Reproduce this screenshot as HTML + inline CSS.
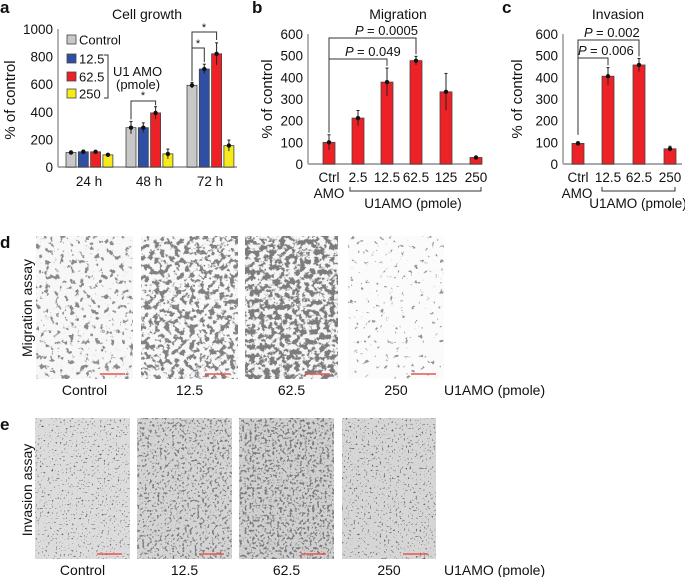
<!DOCTYPE html>
<html><head><meta charset="utf-8">
<style>
html,body{margin:0;padding:0;background:#fff;}
svg{display:block;font-family:"Liberation Sans",Arial,sans-serif;}
</style></head>
<body>
<svg id="fig" width="685" height="577" viewBox="0 0 685 577" xmlns="http://www.w3.org/2000/svg">
<defs>
 <filter id="mig0" x="0" y="0" width="1" height="1"><feTurbulence type="fractalNoise" baseFrequency="0.2" numOctaves="3" seed="3"/><feColorMatrix type="matrix" values="0 0 0 0 0.25  0 0 0 0 0.25  0 0 0 0 0.25  10 0 0 0 -5.9"/></filter>
 <filter id="mig1" x="0" y="0" width="1" height="1"><feTurbulence type="fractalNoise" baseFrequency="0.2" numOctaves="3" seed="7"/><feColorMatrix type="matrix" values="0 0 0 0 0.22  0 0 0 0 0.22  0 0 0 0 0.22  10 0 0 0 -5.0"/></filter>
 <filter id="mig2" x="0" y="0" width="1" height="1"><feTurbulence type="fractalNoise" baseFrequency="0.2" numOctaves="3" seed="11"/><feColorMatrix type="matrix" values="0 0 0 0 0.2  0 0 0 0 0.2  0 0 0 0 0.2  10 0 0 0 -4.6"/></filter>
 <filter id="mig3" x="0" y="0" width="1" height="1"><feTurbulence type="fractalNoise" baseFrequency="0.2" numOctaves="3" seed="5"/><feColorMatrix type="matrix" values="0 0 0 0 0.3  0 0 0 0 0.3  0 0 0 0 0.3  14 0 0 0 -9.6"/></filter>
 <filter id="inv0" x="0" y="0" width="1" height="1"><feTurbulence type="fractalNoise" baseFrequency="0.5" numOctaves="2" seed="2"/><feColorMatrix type="matrix" values="0 0 0 0 0.12  0 0 0 0 0.12  0 0 0 0 0.12  12 0 0 0 -7.9"/></filter>
 <filter id="inv1" x="0" y="0" width="1" height="1"><feTurbulence type="fractalNoise" baseFrequency="0.4" numOctaves="2" seed="9"/><feColorMatrix type="matrix" values="0 0 0 0 0.2  0 0 0 0 0.2  0 0 0 0 0.2  10 0 0 0 -5.7"/></filter>
 <filter id="inv2" x="0" y="0" width="1" height="1"><feTurbulence type="fractalNoise" baseFrequency="0.4" numOctaves="2" seed="13"/><feColorMatrix type="matrix" values="0 0 0 0 0.2  0 0 0 0 0.2  0 0 0 0 0.2  10 0 0 0 -5.4"/></filter>
 <filter id="inv3" x="0" y="0" width="1" height="1"><feTurbulence type="fractalNoise" baseFrequency="0.5" numOctaves="2" seed="4"/><feColorMatrix type="matrix" values="0 0 0 0 0.12  0 0 0 0 0.12  0 0 0 0 0.12  12 0 0 0 -7.8"/></filter>
</defs>
<g id="root"></g>
</svg>
<script>
// Panel a data
const aGroups = ["24 h","48 h","72 h"];
const aSeries = ["Control","12.5","62.5","250"];
const aControl = [105,285,592];
const a125 = [110,285,710];
const a625 = [110,392,820];
const a250 = [88,95,155];
const aErrControl = [10,45,20];
const aErr125 = [12,35,35];
const aErr625 = [10,45,80];
const aErr250 = [8,35,40];
const aTicks = [0,200,400,600,800,1000];
// Panel b data
const bCats = ["Ctrl","2.5","12.5","62.5","125","250"];
const bValues = [100,212,378,477,333,30];
const bErr = [35,35,65,20,85,5];
const bTicks = [0,100,200,300,400,500,600];
// Panel c data
const cCats = ["Ctrl","12.5","62.5","250"];
const cValues = [95,405,457,70];
const cErr = [8,40,30,12];
const cTicks = [0,100,200,300,400,500,600];

const NS="http://www.w3.org/2000/svg";
const root=document.getElementById('root');
function el(tag,parent){const e=document.createElementNS(NS,tag);(parent||root).appendChild(e);return e;}
function sa(e,o){for(const k in o)e.setAttribute(k,o[k]);return e;}
function txt(s,x,y,size,anchor,parent,extra){const t=el('text',parent);sa(t,{x:x,y:y,'font-size':size,'text-anchor':anchor||'middle',fill:'#111'});if(extra)sa(t,extra);t.textContent=s;return t;}
function line(x1,y1,x2,y2,parent,w,c){const l=el('line',parent);sa(l,{x1:x1,y1:y1,x2:x2,y2:y2,stroke:c||'#333','stroke-width':w||1});return l;}

function axis(x0,xEnd,yTop,yBot,max,ticks,g){
  const y=v=>yBot-(v/max)*(yBot-yTop);
  const ax=line(x0,yTop,x0,yBot,g,1.5,'#999');
  
  
  const bx=line(x0,yBot,xEnd,yBot,g,2,'#aaa');
  
  
  ticks.forEach(v=>{
    const t=txt(String(v),x0-5,y(v)+5,13.5,'end',g);
    
    
  });
  return y;
}
function bar(cx,w,v,err,y,fill,g){
  const r=el('rect',g);
  sa(r,{x:cx-w/2,y:y(v),width:w,height:y(0)-y(v),fill:fill,stroke:'#444','stroke-width':0.8});
  
  
  const e=line(cx,y(v+err),cx,y(Math.max(0,v-err)),g,1,'#222');
  
  
  line(cx-1.5,y(v+err),cx+1.5,y(v+err),g,1,'#222');
  const d=el('circle',g);sa(d,{cx:cx,cy:y(v),r:2.2,fill:'#111'});
  
  
}
function bracket(x1,x2,yLine,y1,y2,g){
  const p=el('path',g);
  sa(p,{d:`M${x1},${y1}V${yLine}H${x2}V${y2}`,fill:'none',stroke:'#333','stroke-width':1});
  
  
}

// ---------- Panel a ----------
const ga=el('g');
txt('a',0,13,17,'start',ga,{'font-weight':'bold'});
const ta=txt('Cell growth',147,19,14,'middle',ga);
const yta=txt('% of control',0,0,15,'middle',ga,{transform:'translate(15,100) rotate(-90)'});
const ya=axis(58,237,29,167,1000,aTicks,ga);
const aColors=['#c8c8c8','#2f4fa5','#ee2127','#f6ea1b'];
const aVals=[aControl,a125,a625,a250];
const aErrs=[aErrControl,aErr125,aErr625,aErr250];
const aStart=[71,131,192];
aGroups.forEach((gname,i)=>{
  for(let s=0;s<4;s++){bar(aStart[i]+s*12.3,10,aVals[s][i],aErrs[s][i],ya,aColors[s],ga);}
  const l=txt(gname,aStart[i]+18,186,13.5,'middle',ga);
  
  
});
// legend
const legY=[40,59,77,94];
aSeries.forEach((s,i)=>{
  const r=el('rect',ga);sa(r,{x:67,y:legY[i]-5,width:9,height:9,fill:aColors[i],stroke:'#444','stroke-width':0.8});
  
  
  const t=txt(s,79,legY[i]+4.5,13,'start',ga);
  
  
});
const lb=el('path',ga);sa(lb,{d:'M104,55H108V98H104',fill:'none',stroke:'#333','stroke-width':1});

txt('U1 AMO',113,76,13,'start',ga);
txt('(pmole)',116,89,13,'start',ga);
bracket(aStart[1],aStart[1]+2*12.3,101,ya(aControl[1]+60),ya(a625[1]+55),ga);
txt('*',aStart[1]+12,99,11,'middle',ga);
bracket(aStart[2],aStart[2]+2*12.3,32,ya(aControl[2]+30),ya(a625[2]+100),ga);
txt('*',aStart[2]+12,31,11,'middle',ga);
bracket(aStart[2],aStart[2]+12.3,48,ya(aControl[2]+30),ya(a125[2]+50),ga);
txt('*',aStart[2]+6,47,11,'middle',ga);

// ---------- Panel b ----------
const gb=el('g');
txt('b',252,13,17,'start',gb,{'font-weight':'bold'});
const tb=txt('Migration',398,19,14,'middle',gb);
const ytb=txt('% of control',0,0,15,'middle',gb,{transform:'translate(272,99) rotate(-90)'});
const yb=axis(308,482,34,164,600,bTicks,gb);
const bX=[329,358,387,416,446,476];
bCats.forEach((c,i)=>{
  bar(bX[i],12,bValues[i],bErr[i],yb,'#ee2127',gb);
  const l=txt(c,bX[i],182,13.5,'middle',gb);
  
  
});
txt('AMO',329,198,13.5,'middle',gb);
bracket(bX[0],bX[3],38,yb(bValues[0]+45),yb(bValues[3]+30),gb);
bracket(bX[0],bX[2],59,yb(bValues[0]+45),yb(bValues[2]+75),gb);
txt('P',355,35,13,'start',gb,{'font-style':'italic'});txt('= 0.0005',367,35,13,'start',gb);
txt('P',345,56,13,'start',gb,{'font-style':'italic'});txt('= 0.049',357,56,13,'start',gb);
const ub=el('path',gb);sa(ub,{d:'M350,187V191H481V187',fill:'none',stroke:'#333','stroke-width':1});

txt('U1AMO (pmole)',413,208,13.5,'middle',gb);

// ---------- Panel c ----------
const gc=el('g');
txt('c',502,13,17,'start',gc,{'font-weight':'bold'});
const tc=txt('Invasion',618,19,14,'middle',gc);
const ytc=txt('% of control',0,0,15,'middle',gc,{transform:'translate(522,99) rotate(-90)'});
const yc=axis(563,682,34,164,600,cTicks,gc);
const cX=[578,608,639,670];
cCats.forEach((c,i)=>{
  bar(cX[i],12,cValues[i],cErr[i],yc,'#ee2127',gc);
  const l=txt(c,cX[i],182,13.5,'middle',gc);
  
  
});
txt('AMO',577,198,13.5,'middle',gc);
bracket(cX[0],cX[2],40,yc(cValues[0]+40),yc(cValues[2]+40),gc);
bracket(cX[0],cX[1],58,yc(cValues[0]+40),yc(cValues[1]+50),gc);
txt('P',584,37,13,'start',gc,{'font-style':'italic'});txt('= 0.002',596,37,13,'start',gc);
txt('P',578,55,13,'start',gc,{'font-style':'italic'});txt('= 0.006',590,55,13,'start',gc);
const uc=el('path',gc);sa(uc,{d:'M602,187V191H675V187',fill:'none',stroke:'#333','stroke-width':1});

txt('U1AMO (pmole)',638,208,13.5,'middle',gc);

// ---------- Panels d & e ----------
const photoLabels=["Control","12.5","62.5","250"];
function photoRow(name,letter,title,xs,ws,y0,h,bg,fid,labelY,titleY){
  const g=el('g');
  txt(letter,0,y0+12,17,'start',g,{'font-weight':'bold'});
  const vt=txt(title,0,0,14,'middle',g,{transform:`translate(32,${titleY}) rotate(-90)`});
  
  xs.forEach((x,i)=>{
    const b=el('rect',g);sa(b,{x:x,y:y0,width:ws[i],height:h,fill:bg[i]});
    
    
    const n=el('rect',g);sa(n,{x:x,y:y0,width:ws[i],height:h,fill:'#000',filter:`url(#${fid}${i})`});
    const sb=line(x+ws[i]-33,y0+h-5,x+ws[i]-8,y0+h-5,g,1.5,'#e8564e');
    
    const l=txt(photoLabels[i],x+ws[i]/2,labelY,14,'middle',g);
    
  });
  const u=txt('U1AMO (pmole)',444,labelY,14,'start',g);
  
}
photoRow('panel-d-migration-assay','d','Migration assay',[36,141,245,348],[97,97,93,96],236,143,['#f7f7f7','#f8f8f8','#f5f5f5','#fbfbfb'],'mig',395,308);
photoRow('panel-e-invasion-assay','e','Invasion assay',[35,137,239,342],[95,95,95,94],418,141,['#dcdcdc','#d4d4d4','#d0d0d0','#d6d6d6'],'inv',575,490);
</script>
</body></html>
